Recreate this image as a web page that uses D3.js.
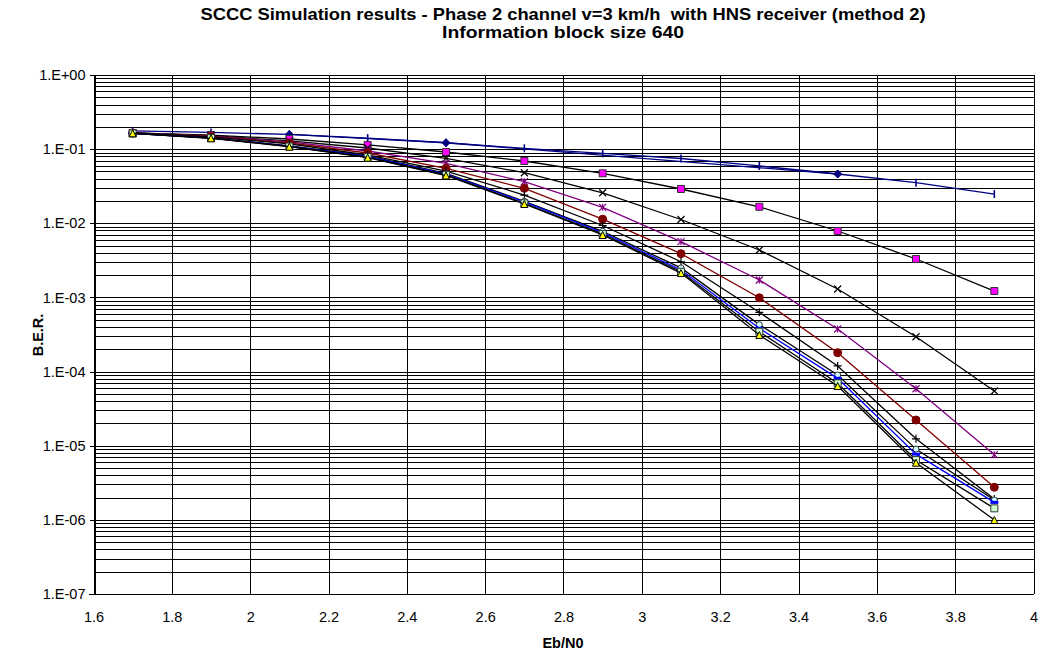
<!DOCTYPE html>
<html>
<head>
<meta charset="utf-8">
<script src="https://cdn.jsdelivr.net/npm/d3@7"></script>
<style>
  body { margin: 0; background: #fff; }
  svg { display: block; font-family: Arial, "Liberation Sans", sans-serif; }
</style>
</head>
<body>
<svg id="chart" width="1042" height="654"></svg>
<script>
// Eb/N0 points (dB)
var ebn0 = [1.7, 1.9, 2.1, 2.3, 2.5, 2.7, 2.9, 3.1, 3.3, 3.5, 3.7, 3.9];

// BER curves
var berBar     = [0.176, 0.168, 0.158, 0.141, 0.122, 0.1026, 0.0879, 0.0748, 0.0593, 0.0462, 0.0353, 0.0248];
var diamondX   = [2.1, 2.5, 3.5];
var berDiamond = [0.158, 0.122, 0.0462];
var berSquare  = [0.165, 0.155, 0.137, 0.114, 0.0915, 0.0692, 0.0472, 0.0290, 0.0167, 0.00787, 0.0033, 0.00122];
var berCross   = [0.165, 0.152, 0.129, 0.1036, 0.0752, 0.0481, 0.0258, 0.01125, 0.00436, 0.0013, 2.95e-4, 5.47e-5];
var berStar    = [0.165, 0.150, 0.125, 0.0944, 0.0644, 0.0364, 0.0164, 0.00565, 0.00172, 3.75e-4, 5.87e-5, 7.57e-6];
var berCircle  = [0.165, 0.148, 0.121, 0.0887, 0.0552, 0.0296, 0.01135, 0.00389, 9.9e-4, 1.80e-4, 2.22e-5, 2.75e-6];
var berPlus    = [0.165, 0.146, 0.118, 0.0834, 0.0507, 0.024, 0.00933, 0.00303, 6.3e-4, 1.19e-4, 1.24e-5, 1.91e-6];
var berDash    = [0.163, 0.141, 0.110, 0.0796, 0.0462, 0.0194, 0.0075, 0.00234, 3.83e-4, 8.1e-5, 7.7e-6, 1.72e-6];
var berRing    = [0.163, 0.142, 0.111, 0.081, 0.047, 0.0198, 0.0078, 0.0025, 4.3e-4, 9.0e-5, 9.0e-6, 1.85e-6];
var berPale    = [0.163, 0.141, 0.1086, 0.0783, 0.0448, 0.0186, 0.00717, 0.00222, 3.45e-4, 6.95e-5, 6.4e-6, 1.43e-6];
var berTri     = [0.1636, 0.140, 0.108, 0.0767, 0.0441, 0.0182, 0.00695, 0.00213, 3.11e-4, 6.4e-5, 5.9e-6, 9.95e-7];

var xTicks = [1.6, 1.8, 2, 2.2, 2.4, 2.6, 2.8, 3, 3.2, 3.4, 3.6, 3.8, 4];
var yTicks = [1, 1e-1, 1e-2, 1e-3, 1e-4, 1e-5, 1e-6, 1e-7];

var title1 = "SCCC Simulation results - Phase 2 channel v=3 km/h  with HNS receiver (method 2)";
var title2 = "Information block size 640";

var svg = d3.select("#chart");
var plotLeft = 93.5, plotRight = 1033.5, plotTop = 75, plotBottom = 594;

var x = d3.scaleLinear().domain([1.6, 4]).range([plotLeft, plotRight]);
var y = d3.scaleLog().domain([1e-7, 1]).range([plotBottom, plotTop]);

// gridlines: every minor log step + every x tick
var minor = [];
for (var e = -7; e < 0; e++) {
    for (var m = 1; m <= 9; m++) minor.push(m * Math.pow(10, e));
}
minor.push(1);

var grid = svg.append("g").attr("shape-rendering", "crispEdges");
grid.selectAll(".hg").data(minor).enter().append("line")
    .attr("x1", plotLeft).attr("x2", plotRight)
    .attr("y1", function(d) { return Math.round(y(d)) + 0.5; })
    .attr("y2", function(d) { return Math.round(y(d)) + 0.5; })
    .attr("stroke", "#000").attr("stroke-width", 1);
grid.selectAll(".vg").data(xTicks).enter().append("line")
    .attr("y1", plotTop).attr("y2", plotBottom)
    .attr("x1", function(d) { return Math.round(x(d)) + 0.5; })
    .attr("x2", function(d) { return Math.round(x(d)) + 0.5; })
    .attr("stroke", "#000").attr("stroke-width", 1);

// axes
var yAxis = d3.axisLeft(y).tickValues(yTicks).tickSize(5).tickPadding(4)
    .tickFormat(function(d) {
        var p = Math.round(Math.log10(d));
        return "1.E" + (p < 0 ? "-" : "+") + String(Math.abs(p)).padStart(2, "0");
    });
var gy = svg.append("g").attr("transform", "translate(" + (Math.round(plotLeft) + 0.5) + ",0)")
    .attr("shape-rendering", "crispEdges").call(yAxis);

var xAxis = d3.axisBottom(x).tickValues(xTicks).tickSize(0).tickPadding(17)
    .tickFormat(d3.format("~g"));
var gx = svg.append("g").attr("transform", "translate(0," + (Math.round(plotBottom) + 0.5) + ")")
    .attr("shape-rendering", "crispEdges").call(xAxis);

[gx, gy].forEach(function(g) {
    g.select(".domain").attr("stroke", "#000");
    g.selectAll(".tick line").attr("stroke", "#000");
    g.selectAll("text").attr("fill", "#000").style("font-size", "14.5px")
        .style("font-family", "Arial, 'Liberation Sans', sans-serif");
});
gx.select(".domain").attr("d", "M" + (plotLeft - 5) + ",0H" + plotRight);

// series
var line = d3.line()
    .x(function(d) { return x(d[0]); })
    .y(function(d) { return y(d[1]); });

function pts(xs, ys) { return xs.map(function(v, i) { return [v, ys[i]]; }); }

// marker shapes, centred on 0,0
var sym = {
    square: function(s) { return "M" + (-s) + "," + (-s) + "h" + 2 * s + "v" + 2 * s + "h" + (-2 * s) + "Z"; },
    diamond: function(s) { return "M0," + (-s) + "L" + s + ",0L0," + s + "L" + (-s) + ",0Z"; },
    triangle: function(s) { return "M0," + (-s) + "L" + s + "," + s + "L" + (-s) + "," + s + "Z"; },
    circle: function(s) { return d3.symbol(d3.symbolCircle, Math.PI * s * s)(); },
    cross: function(s) { return "M" + (-s) + "," + (-s) + "L" + s + "," + s + "M" + s + "," + (-s) + "L" + (-s) + "," + s; },
    star: function(s) { return "M" + (-s) + "," + (-s) + "L" + s + "," + s + "M" + s + "," + (-s) + "L" + (-s) + "," + s + "M0," + (-s) + "V" + s; },
    plus: function(s) { return "M" + (-s) + ",0H" + s + "M0," + (-s) + "V" + s; },
    dash: function(s) { return "M" + (-s) + ",0H" + s; },
    bar: function(s) { return "M0," + (-s) + "V" + s; }
};

var series = [
    { xs: ebn0, ys: berBar, line: "#000080", shape: "bar", size: 4, fill: "none", stroke: "#000080", sw: 1.6 },
    { xs: diamondX, ys: berDiamond, line: "#000080", shape: "diamond", size: 4, fill: "#000080", stroke: "#000080", sw: 1 },
    { xs: ebn0, ys: berSquare, line: "#000", shape: "square", size: 3.5, fill: "#FF00FF", stroke: "#333", sw: 1 },
    { xs: ebn0, ys: berCross, line: "#000", shape: "cross", size: 3.5, fill: "none", stroke: "#000", sw: 1.2 },
    { xs: ebn0, ys: berStar, line: "#800080", shape: "star", size: 3.5, fill: "none", stroke: "#800080", sw: 1.2 },
    { xs: ebn0, ys: berCircle, line: "#800000", shape: "circle", size: 4, fill: "#800000", stroke: "#800000", sw: 1 },
    { xs: ebn0, ys: berPlus, line: "#000", shape: "plus", size: 4, fill: "none", stroke: "#000", sw: 1.2 },
    { xs: ebn0, ys: berRing, line: "#000", shape: "circle", size: 3, fill: "#CCFFFF", stroke: "#333", sw: 1 },
    { xs: ebn0, ys: berDash, line: "#0000FF", shape: "dash", size: 4, fill: "none", stroke: "#0000FF", sw: 3 },
    { xs: ebn0, ys: berPale, line: "#000", shape: "square", size: 3.5, fill: "#CCFFCC", stroke: "#333", sw: 1 },
    { xs: ebn0, ys: berTri, line: "#000", shape: "triangle", size: 3.5, fill: "#FFFF00", stroke: "#000", sw: 1 }
];

var plot = svg.append("g");
series.forEach(function(s) {
    var data = pts(s.xs, s.ys);
    plot.append("path").datum(data)
        .attr("d", line)
        .attr("fill", "none")
        .attr("stroke", s.line)
        .attr("stroke-width", 1.3);
    plot.selectAll(null).data(data).enter().append("path")
        .attr("transform", function(d) { return "translate(" + x(d[0]) + "," + y(d[1]) + ")"; })
        .attr("d", sym[s.shape](s.size))
        .attr("fill", s.fill)
        .attr("stroke", s.stroke)
        .attr("stroke-width", s.sw);
});

// titles (narrow-tall Excel text, stretched to the reference width)
svg.append("text").attr("x", 563).attr("y", 20).attr("text-anchor", "middle")
    .attr("textLength", 725).attr("lengthAdjust", "spacingAndGlyphs")
    .style("font-weight", "bold").style("font-size", "16.5px").style("white-space", "pre")
    .text(title1);
svg.append("text").attr("x", 563).attr("y", 38).attr("text-anchor", "middle")
    .attr("textLength", 242).attr("lengthAdjust", "spacingAndGlyphs")
    .style("font-weight", "bold").style("font-size", "16.5px")
    .text(title2);
svg.append("text").attr("x", 563).attr("y", 648).attr("text-anchor", "middle")
    .style("font-weight", "bold").style("font-size", "14.5px")
    .text("Eb/N0");
svg.append("text").attr("transform", "translate(43,335) rotate(-90)").attr("text-anchor", "middle")
    .style("font-weight", "bold").style("font-size", "14.5px")
    .text("B.E.R.");
</script>
</body>
</html>
